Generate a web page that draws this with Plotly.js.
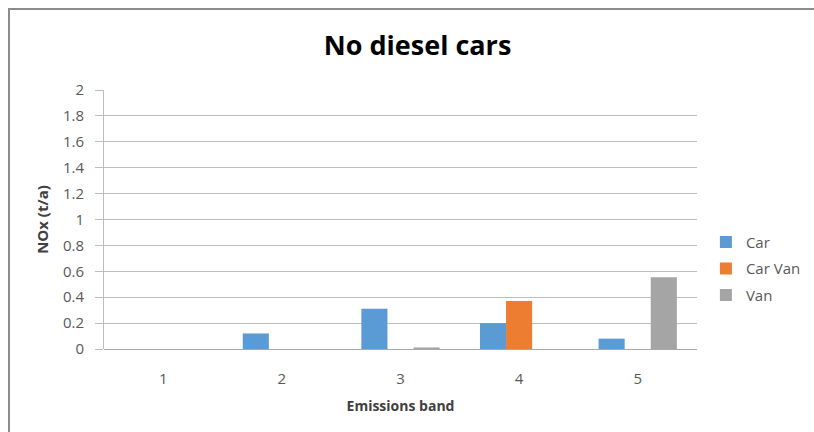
<!DOCTYPE html>
<html>
<head>
<meta charset="utf-8">
<script src="https://cdn.plot.ly/plotly-3.0.1.min.js"></script>
<style>
html,body{margin:0;padding:0;background:#fff;}
#wrap{position:relative;width:814px;height:432px;}
#chart{width:814px;height:432px;}
#frame{position:absolute;left:8px;top:8px;right:0;bottom:0;border-top:2px solid #8c8c8c;border-left:2px solid #8c8c8c;pointer-events:none;}
</style>
</head>
<body>
<div id="wrap"><div id="chart"></div><div id="frame"></div></div>
<script>
const categories = ['1', '2', '3', '4', '5'];
const carValues = [0, 0.12, 0.31, 0.2, 0.08];
const carVanValues = [0, 0, 0, 0.37, 0];
const vanValues = [0, 0, 0.012, 0, 0.555];
const yTicks = [0, 0.2, 0.4, 0.6, 0.8, 1, 1.2, 1.4, 1.6, 1.8, 2];
const yTickLabels = ['0', '0.2', '0.4', '0.6', '0.8', '1', '1.2', '1.4', '1.6', '1.8', '2'];

const font = '"Open Sans", sans-serif';
const traces = [
  {type: 'bar', name: 'Car', legendgroup: 'a', x: categories, y: carValues, marker: {color: '#5B9BD5'}},
  {type: 'bar', name: 'Car Van', legendgroup: 'b', x: categories, y: carVanValues, marker: {color: '#ED7D31'}},
  {type: 'bar', name: 'Van', legendgroup: 'c', x: categories, y: vanValues, marker: {color: '#A5A5A5'}}
];
const layout = {
  width: 814, height: 432,
  margin: {l: 104, r: 117, t: 90, b: 83, autoexpand: false},
  paper_bgcolor: '#fff', plot_bgcolor: '#fff',
  barmode: 'group', bargap: 0.34, bargroupgap: 0,
  title: {text: '<b>No diesel cars</b>', x: 0.513, xanchor: 'center', y: 0.895, yanchor: 'middle',
          font: {family: font, size: 27, color: '#000'}},
  xaxis: {type: 'category', showgrid: false, showline: false, zeroline: false,
          ticks: 'outside', ticklen: 16, tickcolor: 'rgba(0,0,0,0)', automargin: false,
          tickfont: {family: font, size: 15, color: '#595959'},
          title: {text: '<b>Emissions band</b>', standoff: 14, font: {family: font, size: 14, color: '#404040'}}},
  yaxis: {range: [0, 2], tickvals: yTicks, ticktext: yTickLabels, automargin: false,
          showgrid: true, gridcolor: '#BDBDBD', gridwidth: 1,
          showline: true, linecolor: '#BDBDBD', linewidth: 1,
          zeroline: true, zerolinecolor: '#A8A8A8', zerolinewidth: 1,
          ticks: 'outside', ticklen: 8, tickcolor: '#BDBDBD', ticklabelstandoff: 8,
          tickfont: {family: font, size: 15, color: '#595959'},
          title: {text: '<b>NOx (t/a)</b>', standoff: 10, font: {family: font, size: 15, color: '#404040'}}},
  legend: {x: 1.015, y: 0.31, xanchor: 'left', yanchor: 'middle', traceorder: 'grouped', tracegroupgap: 4,
           itemwidth: 30, font: {family: font, size: 15, color: '#595959'}, bgcolor: 'rgba(0,0,0,0)'},
  showlegend: true
};
Plotly.newPlot('chart', traces, layout, {displayModeBar: false, staticPlot: true});
</script>
</body>
</html>
